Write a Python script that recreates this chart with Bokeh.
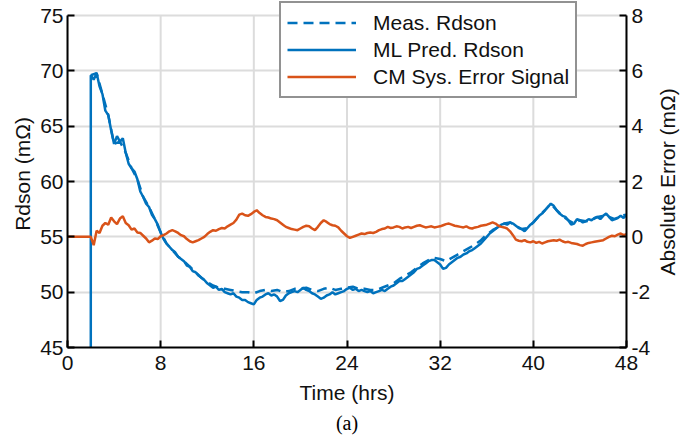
import numpy as np
from bokeh.plotting import figure
from bokeh.layouts import row
from bokeh.models import (Range1d, LinearAxis, FixedTicker, Legend, LegendItem,
                          Title)
from bokeh.embed import file_html
from bokeh.resources import INLINE

# ---------------- data ----------------
ml_start_hr = 2.0          # prediction switches on at 2 h
ml_step_hr = 0.25
ml_pred = [
    69.6, 69.2, 69.8, 68.6, 67.9, 66.4, 66.0, 64.6,
    63.4, 64.1, 63.6, 63.9, 62.6, 61.6, 61.2, 60.9,
    60.2, 59.1, 58.6, 58.0, 57.7, 57.0, 56.6, 56.1,
    55.4, 54.8, 54.4, 54.1, 53.8, 53.6, 53.2, 53.0,
    52.8, 52.4, 52.3, 51.9, 51.8, 51.5, 51.3, 51.1,
    50.8, 50.6, 50.4, 50.5, 50.2, 50.3, 50.0, 49.9,
    49.8, 49.9, 49.6, 49.5, 49.3, 49.3, 49.1, 49.0,
    48.9, 49.3, 49.5, 49.6, 49.8, 49.9, 49.7, 49.8,
    49.6, 49.2, 49.3, 49.7, 49.9, 50.0, 50.1, 50.0,
    50.2, 50.4, 50.2, 50.1, 49.9, 49.8, 49.6, 49.4,
    49.5, 49.7, 49.8, 50.0, 49.8, 49.9, 50.0, 50.1,
    50.3, 50.4, 50.2, 50.3, 50.1, 50.2, 50.1, 50.0,
    50.1, 49.9, 50.0, 50.1, 50.2, 50.1, 50.3, 50.5,
    50.6, 50.8, 51.0, 51.0, 51.2, 51.4, 51.6, 51.8,
    52.1, 52.2, 52.4, 52.6, 52.8, 52.9, 52.9, 52.7,
    52.5, 52.1, 52.2, 52.5, 52.7, 52.9, 53.1, 53.2,
    53.4, 53.5, 53.7, 53.8, 54.0, 54.2, 54.4, 54.7,
    55.0, 55.3, 55.5, 55.7, 55.9, 56.1, 56.2, 56.1,
    56.3, 56.2, 56.0, 55.8, 55.7, 55.5, 55.8, 56.1,
    56.3, 56.6, 56.9, 57.1, 57.4, 57.7, 58.0, 57.8,
    57.4, 57.1, 56.9, 56.8, 56.5, 56.1, 56.2, 56.6,
    56.5, 56.3, 56.4, 56.6, 56.5, 56.7, 56.8, 56.6,
    56.9, 57.1, 56.8, 56.5, 56.6, 56.7, 56.9, 56.7,
    57.0,
]
ml_pre_value = 0.0          # value before the jump (off-scale)

meas_start_hr = 2.0
meas_step_hr = 0.5
meas_rdson = [
    69.6, 69.8, 67.9, 66.0,
    63.4, 63.6, 62.6, 61.2,
    60.2, 58.6, 57.7, 56.6,
    55.4, 54.4, 53.8, 53.2,
    52.8, 52.3, 51.8, 51.3,
    50.9, 50.6, 50.4, 50.3,
    50.2, 50.1, 50.0, 50.0,
    49.9, 50.1, 50.2, 50.1,
    50.2, 50.0, 50.1, 50.3,
    50.3, 50.4, 50.2, 50.1,
    50.3, 50.4, 50.2, 50.3,
    50.4, 50.5, 50.3, 50.3,
    50.2, 50.2, 50.4, 50.6,
    50.8, 51.2, 51.5, 51.8,
    52.2, 52.6, 52.9, 53.1,
    53.0, 52.8, 53.1, 53.4,
    53.7, 54.0, 54.3, 54.7,
    55.2, 55.6, 55.9, 56.2,
    56.3, 56.0, 55.7, 55.8,
    56.3, 56.9, 57.4, 58.0,
    57.4, 56.9, 56.5, 56.2,
    56.5, 56.4, 56.5, 56.8,
    56.9, 56.8, 56.6, 56.9,
    57.0,
]

err_start_hr = 2.0
err_step_hr = 0.25
err_pre_time = [0.0]
err_pre_value = [0.0]
cm_error = [
    0.00, -0.30, 0.22, 0.14, 0.40, 0.50, 0.44, 0.70,
    0.56, 0.46, 0.66, 0.74, 0.50, 0.42, 0.26, 0.30,
    0.16, 0.14, 0.04, -0.06, -0.20, -0.14, -0.06, -0.08,
    0.02, 0.06, 0.12, 0.20, 0.24, 0.20, 0.14, 0.06,
    0.02, -0.08, -0.16, -0.20, -0.16, -0.12, -0.06, 0.00,
    0.10, 0.18, 0.24, 0.22, 0.28, 0.32, 0.30, 0.38,
    0.44, 0.50, 0.62, 0.80, 0.84, 0.78, 0.76, 0.82,
    0.90, 0.96, 0.86, 0.78, 0.72, 0.70, 0.66, 0.64,
    0.60, 0.52, 0.44, 0.36, 0.32, 0.28, 0.26, 0.24,
    0.30, 0.36, 0.40, 0.38, 0.30, 0.24, 0.36, 0.50,
    0.60, 0.54, 0.46, 0.42, 0.40, 0.34, 0.22, 0.12,
    0.02, -0.04, 0.00, 0.04, 0.08, 0.12, 0.10, 0.14,
    0.16, 0.14, 0.18, 0.24, 0.28, 0.30, 0.36, 0.32,
    0.34, 0.38, 0.36, 0.30, 0.34, 0.36, 0.32, 0.36,
    0.40, 0.42, 0.38, 0.34, 0.36, 0.38, 0.34, 0.36,
    0.38, 0.42, 0.46, 0.48, 0.44, 0.40, 0.38, 0.36,
    0.34, 0.38, 0.32, 0.30, 0.34, 0.36, 0.40, 0.42,
    0.44, 0.48, 0.52, 0.48, 0.40, 0.36, 0.34, 0.30,
    0.20, 0.06, -0.10, -0.14, -0.16, -0.12, -0.18, -0.20,
    -0.16, -0.22, -0.18, -0.24, -0.20, -0.16, -0.14, -0.12,
    -0.14, -0.10, -0.16, -0.20, -0.18, -0.22, -0.24, -0.26,
    -0.30, -0.32, -0.26, -0.22, -0.20, -0.18, -0.16, -0.14,
    -0.12, -0.06, 0.00, 0.04, 0.02, 0.08, 0.12, 0.06,
    0.10,
]

x_ticks = [0, 8, 16, 24, 32, 40, 48]
left_ticks = [45, 50, 55, 60, 65, 70, 75]
right_ticks = [-4, -2, 0, 2, 4, 6, 8]

# ---------------- build ----------------
ml_t = np.concatenate([[ml_start_hr], ml_start_hr + ml_step_hr * np.arange(len(ml_pred))])
ml_y = np.concatenate([[ml_pre_value], ml_pred])
meas_t = meas_start_hr + meas_step_hr * np.arange(len(meas_rdson))
err_t = np.concatenate([err_pre_time, err_start_hr + err_step_hr * np.arange(len(cm_error))])
err_y = np.concatenate([err_pre_value, cm_error])

BLUE = "#0072BD"
ORANGE = "#D95319"
FONT = "Liberation Sans"
FS = "21px"
TXT = "#111111"

# frame extends above the top tick so the legend can sit there unclipped
AXES_H = 332.0      # height of the 45..75 axis span in px
HEAD = 15.0         # extra headroom above the top tick in px
lo, hi = left_ticks[0], left_ticks[-1]
rlo, rhi = right_ticks[0], right_ticks[-1]
top_left = lo + (hi - lo) * (AXES_H + HEAD) / AXES_H
top_right = rlo + (rhi - rlo) * (AXES_H + HEAD) / AXES_H

MAIN_W = 653
SIDE_W = 699 - MAIN_W

p = figure(width=MAIN_W, height=441, output_backend="svg", toolbar_location=None,
           x_range=Range1d(x_ticks[0], x_ticks[-1]), y_range=Range1d(lo, top_left),
           min_border_left=67, min_border_right=26, min_border_top=0,
           min_border_bottom=94, background_fill_color="white",
           border_fill_color="white")
p.outline_line_color = None
p.extra_y_ranges = {"err": Range1d(rlo, top_right)}

# grid: horizontal from the axis ticker; vertical drawn only up to the top tick
p.ygrid.ticker = FixedTicker(ticks=left_ticks)
p.ygrid.grid_line_color = "#dcdcdc"
p.ygrid.grid_line_width = 2
p.xgrid.grid_line_color = None
p.segment(x0=x_ticks, y0=[lo] * len(x_ticks), x1=x_ticks, y1=[hi] * len(x_ticks),
          line_color="#dcdcdc", line_width=2)

r_meas = p.line(meas_t, meas_rdson, line_color=BLUE, line_width=2.5, line_dash="10 6")
r_pred = p.line(ml_t, ml_y, line_color=BLUE, line_width=2.5)
r_err = p.line(err_t, err_y, line_color=ORANGE, line_width=2.5, y_range_name="err")

def style_axis(ax, ticks):
    ax.ticker = FixedTicker(ticks=ticks)
    ax.axis_line_color = "black"
    ax.axis_line_width = 2
    ax.major_tick_line_color = "black"
    ax.major_tick_line_width = 2
    ax.major_tick_in = 7
    ax.major_tick_out = 0
    ax.minor_tick_line_color = None
    ax.major_label_text_font = FONT
    ax.major_label_text_font_size = FS
    ax.major_label_text_color = TXT
    ax.axis_label_text_font = FONT
    ax.axis_label_text_font_size = FS
    ax.axis_label_text_font_style = "normal"
    ax.axis_label_text_color = TXT

xa = p.xaxis[0]
style_axis(xa, x_ticks)
xa.axis_label = "Time (hrs)"
xa.major_label_standoff = 8
xa.axis_label_standoff = 8

ya = p.yaxis[0]
style_axis(ya, left_ticks)
ya.bounds = (lo, hi)
ya.axis_label = "Rdson (mΩ)"
ya.major_label_standoff = 4
ya.axis_label_standoff = 3

ra = LinearAxis(y_range_name="err")
style_axis(ra, right_ticks)
ra.bounds = (rlo, rhi)
ra.major_label_standoff = 5
ra.major_label_overrides = {t: str(t) for t in right_ticks}
p.add_layout(ra, "right")

p.add_layout(Title(text="(a)", align="center", text_font="Liberation Serif",
                   text_font_size="20px", text_font_style="normal",
                   text_color="black", standoff=6), "below")

legend = Legend(items=[LegendItem(label="Meas. Rdson", renderers=[r_meas]),
                       LegendItem(label="ML Pred. Rdson", renderers=[r_pred]),
                       LegendItem(label="CM Sys. Error Signal", renderers=[r_err])],
                location=(212, 249), margin=0, padding=6, spacing=0,
                glyph_width=69, glyph_height=27, label_height=27, label_standoff=17,
                label_text_font=FONT, label_text_font_size=FS,
                label_text_color=TXT,
                border_line_color="#262626", border_line_width=2,
                background_fill_color="white", background_fill_alpha=1.0)
p.add_layout(legend)

# right-hand axis title, reading bottom-to-top like the reference
q = figure(width=SIDE_W, height=441, output_backend="svg", toolbar_location=None,
           x_axis_type=None, y_axis_type=None,
           min_border_left=0, min_border_right=0, min_border_top=0,
           min_border_bottom=94, background_fill_color="white",
           border_fill_color="white")
q.outline_line_color = None
q.grid.visible = False
q.add_layout(Title(text="Absolute Error (mΩ)", align="left", offset=72,
                   text_font=FONT, text_font_size=FS, text_font_style="normal",
                   text_color=TXT, standoff=0), "left")

layout = row(p, q, spacing=0)
open("out.html", "w").write(file_html(layout, INLINE))
